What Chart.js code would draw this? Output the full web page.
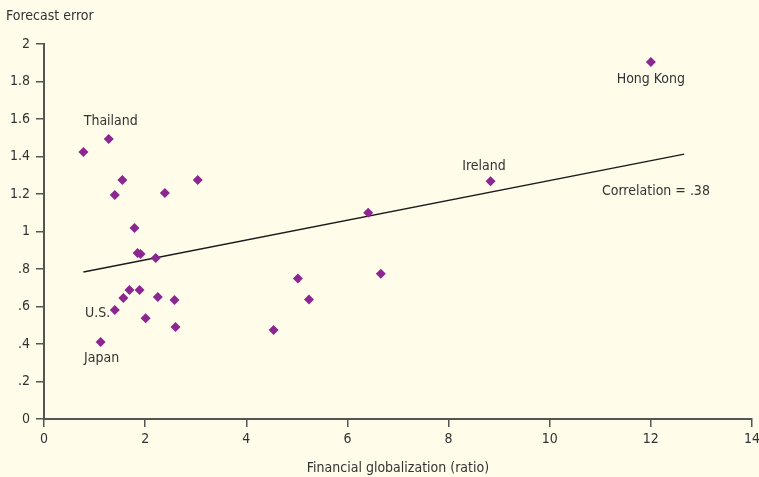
<!DOCTYPE html>
<html><head><meta charset="utf-8">
<script src="https://cdn.jsdelivr.net/npm/chart.js@4"></script>
<style>
html,body{margin:0;padding:0;background:#FFFCEA;}
#wrap{width:759px;height:477px;position:relative;}
</style></head>
<body><div id="wrap"><canvas id="c" width="759" height="477"></canvas></div>
<script>
const globalization = [0.78,1.28,1.55,1.40,2.39,3.04,1.79,1.85,1.91,2.21,1.69,1.89,1.57,2.25,2.58,1.40,2.01,2.60,1.12,4.54,5.02,5.24,6.41,6.66,8.83,12.0];
const forecastError = [1.424,1.493,1.275,1.195,1.205,1.275,1.019,0.885,0.88,0.859,0.688,0.688,0.645,0.651,0.635,0.581,0.537,0.491,0.411,0.475,0.750,0.638,1.100,0.775,1.268,1.904];
const trendX = [0.78, 12.66];
const trendY = [0.784, 1.413];
const yTickLabels = {0:'0',0.2:'.2',0.4:'.4',0.6:'.6',0.8:'.8',1:'1',1.2:'1.2',1.4:'1.4',1.6:'1.6',1.8:'1.8',2:'2'};
const annotations = [
  {text:'Thailand', x:1.32, y:1.585},
  {text:'Hong Kong', x:12.0, y:1.81},
  {text:'Ireland', x:8.7, y:1.345},
  {text:'Correlation = .38', x:12.1, y:1.215},
  {text:'U.S.', x:1.06, y:0.565},
  {text:'Japan', x:1.14, y:0.325}
];

const FONT = '"DejaVu Sans Condensed", "Liberation Sans Narrow", sans-serif';
const TXT = '#333333';

const textPlugin = {
  id:'texts',
  afterDatasetsDraw(chart){
    const ctx = chart.ctx, xs = chart.scales.x, ys = chart.scales.y;
    ctx.save();
    ctx.fillStyle = TXT;
    ctx.font = '14px ' + FONT;
    ctx.textAlign = 'center';
    ctx.textBaseline = 'middle';
    annotations.forEach(a => ctx.fillText(a.text, xs.getPixelForValue(a.x), ys.getPixelForValue(a.y)));
    ctx.textAlign = 'left';
    ctx.fillText('Forecast error', 6, 16);
    ctx.restore();
  }
};

new Chart(document.getElementById('c'), {
  data:{
    datasets:[
      {type:'scatter', data: globalization.map((x,i)=>({x, y:forecastError[i]})),
       pointStyle:'rectRot', pointRadius:5, pointHoverRadius:5,
       backgroundColor:'#8C2690', borderColor:'#8C2690', borderWidth:0},
      {type:'line', data: trendX.map((x,i)=>({x, y:trendY[i]})),
       borderColor:'#1a1a1a', borderWidth:1.3, pointRadius:0, fill:false}
    ]
  },
  options:{
    responsive:false, animation:false,
    layout:{padding:{top:44, right:7, left:0, bottom:0}},
    plugins:{legend:{display:false}, tooltip:{enabled:false}},
    scales:{
      x:{type:'linear', min:0, max:14,
        ticks:{stepSize:2, color:TXT, font:{family:FONT, size:14}, padding:4},
        grid:{drawOnChartArea:false, drawTicks:true, tickLength:8, color:'#555', lineWidth:1.5},
        border:{display:true, color:'#555', width:2},
        title:{display:true, text:'Financial globalization (ratio)', color:TXT, font:{family:FONT, size:14}, padding:{top:2,bottom:0}},
        afterFit(s){ s.height = 58; s.paddingLeft = 0; s.paddingRight = 0; }
      },
      y:{type:'linear', min:0, max:2,
        ticks:{stepSize:0.2, color:TXT, font:{family:FONT, size:14}, padding:6,
          callback:(v)=>{ const k = Math.round(v*10)/10; return yTickLabels[k]; }},
        grid:{drawOnChartArea:false, drawTicks:true, tickLength:8, color:'#555', lineWidth:1.5},
        border:{display:true, color:'#555', width:2},
        afterFit(s){ s.width = 44; }
      }
    }
  },
  plugins:[textPlugin]
});
</script></body></html>
